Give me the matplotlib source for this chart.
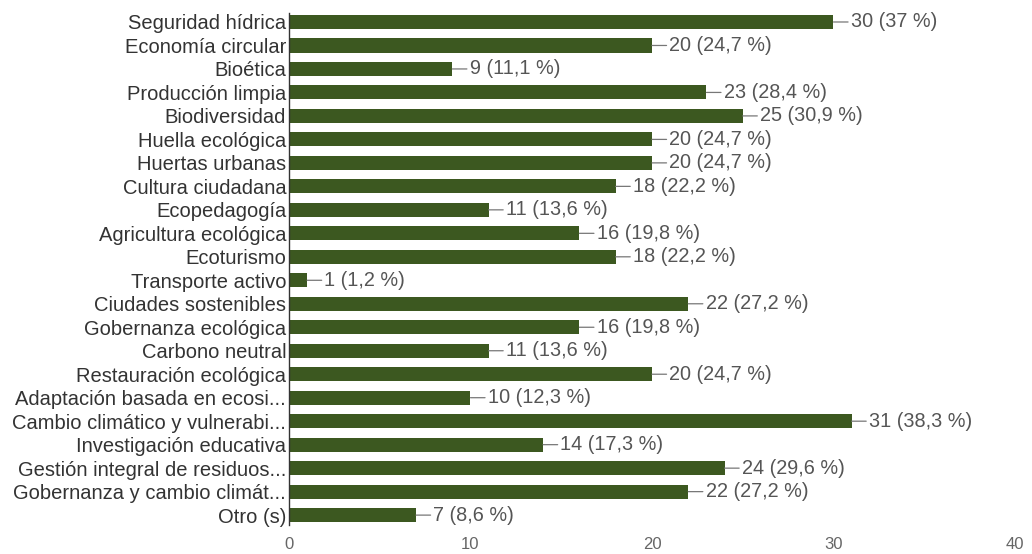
import matplotlib.pyplot as plt

plt.rcParams['font.family'] = ['Liberation Sans', 'DejaVu Sans']

categories = [
    'Seguridad hídrica', 'Economía circular', 'Bioética', 'Producción limpia',
    'Biodiversidad', 'Huella ecológica', 'Huertas urbanas', 'Cultura ciudadana',
    'Ecopedagogía', 'Agricultura ecológica', 'Ecoturismo', 'Transporte activo',
    'Ciudades sostenibles', 'Gobernanza ecológica', 'Carbono neutral',
    'Restauración ecológica', 'Adaptación basada en ecosi...',
    'Cambio climático y vulnerabi...', 'Investigación educativa',
    'Gestión integral de residuos...', 'Gobernanza y cambio climát...', 'Otro (s)',
]
counts = [30, 20, 9, 23, 25, 20, 20, 18, 11, 16, 18, 1, 22, 16, 11, 20, 10, 31, 14, 24, 22, 7]
percents = ['37', '24,7', '11,1', '28,4', '30,9', '24,7', '24,7', '22,2', '13,6', '19,8',
            '22,2', '1,2', '27,2', '19,8', '13,6', '24,7', '12,3', '38,3', '17,3', '29,6',
            '27,2', '8,6']
xticks = [0, 10, 20, 30, 40]

bar_color = '#3c5820'

fig = plt.figure(figsize=(10.32, 5.54), dpi=100)
ax = fig.add_axes([0.280, 0.049, 0.7035, 0.9325])

y = list(range(len(categories)))
ax.barh(y, counts, height=0.6, color=bar_color)

for yi, c, p in zip(y, counts, percents):
    ax.annotate(f'{c} ({p} %)', xy=(c, yi), xytext=(12.5, 0), textcoords='offset points',
                va='center', ha='left', fontsize=14.3, color='#555555',
                arrowprops=dict(arrowstyle='-', color='#777777', lw=0.9,
                                shrinkA=0, shrinkB=0))

ax.set_ylim(len(categories) - 0.5, -0.5)
ax.set_xlim(0, 40)
ax.set_yticks(y)
ax.set_yticklabels(categories, fontsize=14.5, color='#333333')
ax.set_xticks(xticks)
ax.set_xticklabels([str(t) for t in xticks], fontsize=12, color='#666666')
ax.tick_params(axis='y', length=0, pad=2)
ax.tick_params(axis='x', length=0, pad=7)

for s in ['top', 'right', 'bottom']:
    ax.spines[s].set_visible(False)
ax.spines['left'].set_color('#333333')
ax.spines['left'].set_linewidth(1.0)
ax.spines['left'].set_bounds(-0.4, len(categories) - 0.6)

fig.savefig('out.png', dpi=100, facecolor='white')
